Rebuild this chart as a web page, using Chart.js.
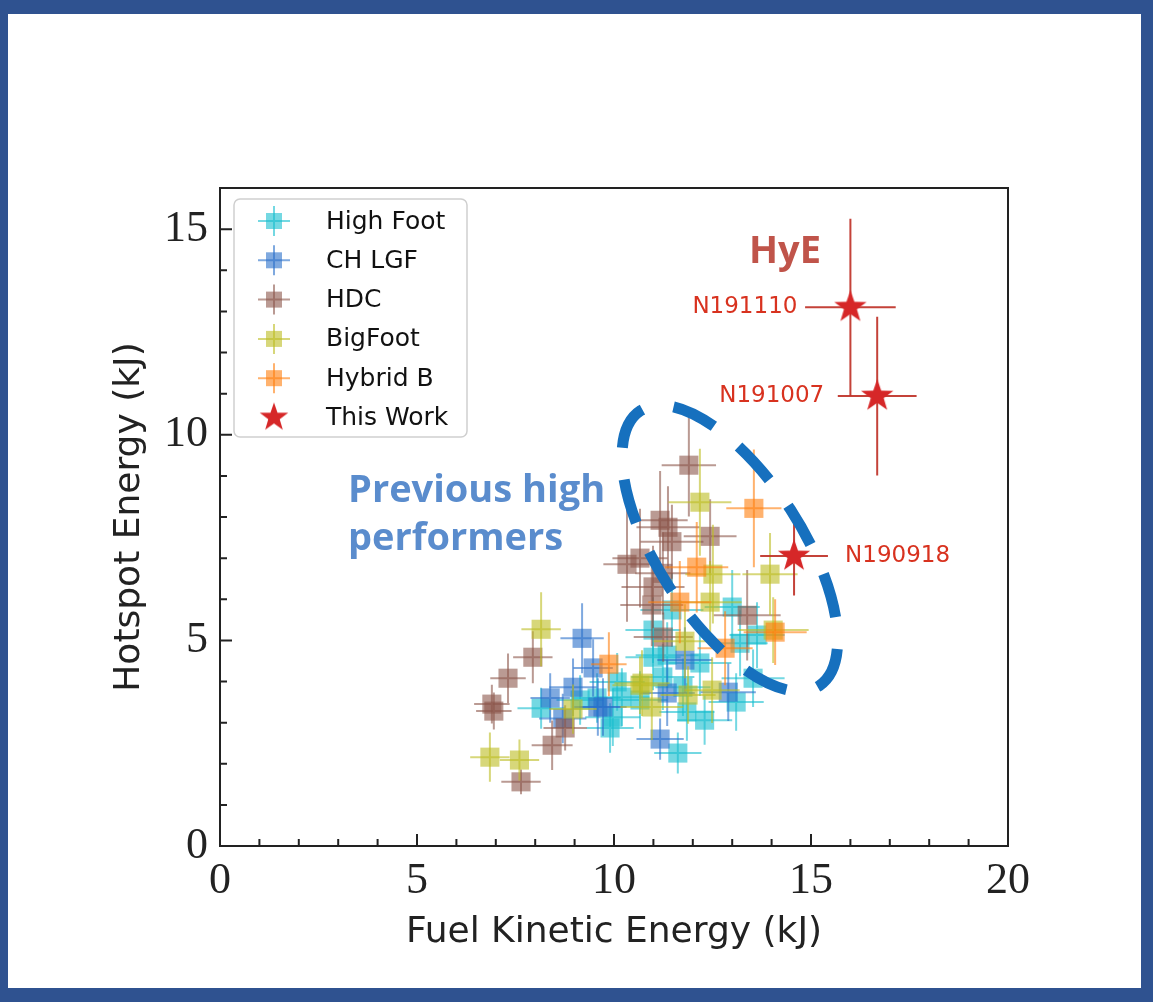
<!DOCTYPE html>
<html>
<head>
<meta charset="utf-8">
<title>Hotspot energy vs fuel kinetic energy</title>
<script src="https://cdn.jsdelivr.net/npm/chart.js@4.4.1/dist/chart.umd.min.js"></script>
<style>
  html, body { margin: 0; padding: 0; background: #fff; }
  #wrap { position: relative; width: 1153px; height: 1002px; }
  #frame {
    position: absolute; left: 0; top: 0; width: 1153px; height: 1002px;
    box-sizing: border-box; border: solid #2f5290; border-width: 14px 12px 14px 8px;
    pointer-events: none;
  }
</style>
</head>
<body>
<div id="wrap"><canvas id="energyChart"></canvas><div id="frame"></div></div>
<script>
// each row: [fuel KE (kJ), hotspot energy (kJ), x error, y error]
const HIGH_FOOT = [
    [8.15, 3.35, 0.6, 0.5], [9.9, 2.87, 0.6, 0.6], [10.08, 3.99, 0.7, 0.7], [11.62, 2.26, 0.6, 0.5],
    [10.99, 5.25, 0.7, 0.8], [9.97, 3.13, 0.7, 0.7], [13.0, 5.81, 0.7, 0.9], [13.63, 5.13, 0.7, 0.8],
    [11.85, 3.26, 0.7, 0.7], [11.35, 4.64, 0.8, 0.8], [12.18, 4.45, 0.8, 0.8], [13.53, 4.08, 0.8, 0.7],
    [11.24, 4.11, 0.8, 0.8], [11.75, 3.86, 0.7, 0.7], [10.2, 3.62, 0.7, 0.7], [13.2, 4.93, 0.7, 0.8],
    [10.99, 4.59, 0.7, 0.8], [9.57, 3.6, 0.6, 0.6], [10.66, 3.55, 0.7, 0.7], [12.3, 3.06, 0.7, 0.6],
    [11.47, 5.74, 0.8, 0.9], [9.14, 3.55, 0.6, 0.6], [13.1, 3.5, 0.7, 0.7]
];
const CH_LGF = [
    [9.19, 5.05, 0.55, 0.85], [9.47, 4.33, 0.5, 0.7], [8.96, 3.86, 0.6, 0.7], [9.59, 3.38, 0.6, 0.7],
    [8.38, 3.6, 0.5, 0.6], [11.17, 2.6, 0.6, 0.5], [12.9, 3.74, 0.7, 0.7], [11.35, 3.72, 0.7, 0.8],
    [11.8, 4.52, 0.7, 0.8], [9.72, 3.38, 0.6, 0.7], [8.7, 3.1, 0.6, 0.6]
];
const HDC = [
    [6.9, 3.45, 0.45, 0.47], [6.95, 3.28, 0.45, 0.45], [7.31, 4.08, 0.45, 0.6], [7.94, 4.59, 0.5, 0.63],
    [7.64, 1.56, 0.5, 0.3], [8.43, 2.45, 0.52, 0.6], [8.76, 2.87, 0.55, 0.55], [10.33, 6.85, 0.6, 1.4],
    [11.9, 9.26, 0.69, 1.25], [11.37, 7.75, 0.8, 1.0], [11.47, 7.4, 0.8, 0.9], [12.44, 7.53, 0.67, 0.9],
    [10.66, 7.0, 0.7, 1.2], [11.17, 7.92, 0.7, 1.2], [10.99, 6.3, 0.8, 1.0], [10.96, 5.86, 0.8, 1.0],
    [11.24, 6.63, 0.7, 1.0], [13.38, 5.61, 0.85, 1.1], [11.25, 5.08, 0.75, 0.6]
];
const BIG_FOOT = [
    [8.15, 5.27, 0.5, 0.9], [6.85, 2.16, 0.5, 0.6], [7.6, 2.09, 0.5, 0.5], [8.96, 3.33, 0.6, 0.6],
    [10.71, 3.96, 0.7, 0.8], [10.96, 3.38, 0.8, 0.8], [12.18, 8.36, 0.8, 1.3], [12.51, 6.61, 0.7, 1.2],
    [13.96, 6.61, 0.7, 1.0], [12.44, 5.93, 0.8, 1.0], [11.8, 4.98, 0.8, 0.9], [11.88, 3.67, 0.7, 0.7],
    [12.49, 3.79, 0.7, 0.8], [14.04, 5.25, 0.9, 0.8], [10.66, 3.91, 0.7, 0.7]
];
const HYBRID_B = [
    [9.87, 4.42, 0.45, 0.78], [13.55, 8.21, 0.7, 1.43], [12.1, 6.78, 0.8, 1.1], [11.67, 5.93, 0.8, 1.0],
    [12.82, 4.81, 0.7, 0.9], [14.09, 5.2, 0.8, 0.8]
];
const THIS_WORK = [
    [16.0, 13.1, 1.15, 2.15], [16.68, 10.94, 1.0, 1.93], [14.57, 7.05, 0.86, 0.96]
];
const SHOT_NAMES = ['N191110', 'N191007', 'N190918'];
const SHOT_SIDES = ['left', 'left', 'right'];

const SERIES_LABELS = ['High Foot', 'CH LGF', 'HDC', 'BigFoot', 'Hybrid B', 'This Work'];
const SERIES_ROWS = [HIGH_FOOT, CH_LGF, HDC, BIG_FOOT, HYBRID_B, THIS_WORK];
const SERIES_RGB = ['23, 190, 207', '42, 111, 201', '140, 86, 75', '188, 189, 34', '255, 127, 14', '214, 39, 40'];

const SERIF = "'Liberation Serif', 'DejaVu Serif', serif";
const SANS = "'DejaVu Sans', 'Liberation Sans', sans-serif";
const CALLOUT = "'Open Sans', 'Lato', sans-serif";

// five-pointed star used as the marker for the new shots
function makeStar(outer, inner, color) {
    const c = document.createElement('canvas');
    const size = Math.ceil(outer * 2 + 2);
    c.width = c.height = size;
    const g = c.getContext('2d');
    g.fillStyle = color;
    g.beginPath();
    for (let i = 0; i < 10; i++) {
        const r = i % 2 ? inner : outer;
        const a = -Math.PI / 2 + i * Math.PI / 5;
        g.lineTo(size / 2 + r * Math.cos(a), size / 2 + r * Math.sin(a));
    }
    g.closePath();
    g.fill();
    return c;
}
const starMarker = makeStar(17, 6.8, '#d62728');
const starLegend = makeStar(15, 6, '#d62728');

const datasets = SERIES_ROWS.map((rows, i) => {
    const isStar = i === SERIES_ROWS.length - 1;
    return {
        label: SERIES_LABELS[i],
        data: rows.map(r => ({x: r[0], y: r[1], xErr: r[2], yErr: r[3]})),
        backgroundColor: `rgba(${SERIES_RGB[i]}, 0.6)`,
        borderWidth: 0,
        pointStyle: isStar ? starMarker : 'rect',
        pointRadius: 13.5,
        pointHoverRadius: 13.5,
        errorColor: isStar ? 'rgba(190, 45, 35, 0.9)' : `rgba(${SERIES_RGB[i]}, 0.6)`,
        order: SERIES_ROWS.length - i // first series at the bottom
    };
});

// x / y error bars, drawn under each dataset's markers
const errorBars = {
    id: 'errorBars',
    beforeDatasetDraw(chart, args) {
        const ds = chart.data.datasets[args.index];
        const {ctx, scales: {x, y}} = chart;
        ctx.save();
        ctx.strokeStyle = ds.errorColor;
        ctx.lineWidth = 2;
        ds.data.forEach((p, i) => {
            const el = args.meta.data[i];
            ctx.beginPath();
            ctx.moveTo(x.getPixelForValue(p.x - p.xErr), el.y);
            ctx.lineTo(x.getPixelForValue(p.x + p.xErr), el.y);
            ctx.moveTo(el.x, y.getPixelForValue(p.y - p.yErr));
            ctx.lineTo(el.x, y.getPixelForValue(p.y + p.yErr));
            ctx.stroke();
        });
        ctx.restore();
    }
};

// closed axes box with inward major/minor ticks
const axesBox = {
    id: 'axesBox',
    afterDatasetsDraw(chart) {
        const {ctx, chartArea: a, scales: {x, y}} = chart;
        ctx.save();
        ctx.strokeStyle = '#222';
        ctx.lineWidth = 2;
        ctx.strokeRect(a.left, a.top, a.right - a.left, a.bottom - a.top);
        ctx.beginPath();
        for (let v = x.min; v <= x.max; v++) {
            const px = x.getPixelForValue(v);
            const len = v % 5 === 0 ? 12 : 7;
            ctx.moveTo(px, a.bottom);
            ctx.lineTo(px, a.bottom - len);
        }
        for (let v = y.min; v <= y.max; v++) {
            const py = y.getPixelForValue(v);
            const len = v % 5 === 0 ? 12 : 7;
            ctx.moveTo(a.left, py);
            ctx.lineTo(a.left + len, py);
        }
        ctx.stroke();
        ctx.restore();
    }
};

// shot names, HyE tag and the dashed ring round earlier shots
const callouts = {
    id: 'callouts',
    afterDatasetsDraw(chart) {
        const {ctx, scales: {x, y}} = chart;
        ctx.save();

        ctx.strokeStyle = '#1670be';
        ctx.lineWidth = 11;
        ctx.setLineDash([45, 32]);
        ctx.lineDashOffset = 43;
        ctx.beginPath();
        ctx.ellipse(x.getPixelForValue(12.94), y.getPixelForValue(7.24), 164, 72, 57 * Math.PI / 180, 0, Math.PI * 2);
        ctx.stroke();
        ctx.setLineDash([]);

        ctx.fillStyle = '#d8321f';
        ctx.font = `23px ${SANS}`;
        ctx.textBaseline = 'middle';
        THIS_WORK.forEach((r, i) => {
            const px = x.getPixelForValue(r[0]);
            const py = y.getPixelForValue(r[1]);
            if (SHOT_SIDES[i] === 'left') {
                ctx.textAlign = 'right';
                ctx.fillText(SHOT_NAMES[i], px - 53, py);
            } else {
                ctx.textAlign = 'left';
                ctx.fillText(SHOT_NAMES[i], px + 51, py);
            }
        });

        ctx.textAlign = 'center';
        ctx.fillStyle = '#c0544a';
        ctx.font = `bold 38px ${CALLOUT}`;
        ctx.fillText('HyE', x.getPixelForValue(14.34), y.getPixelForValue(14.43));

        ctx.textAlign = 'left';
        ctx.textBaseline = 'alphabetic';
        ctx.fillStyle = '#5a8ccd';
        ctx.font = `bold 38px ${CALLOUT}`;
        const tx = x.getPixelForValue(3.25);
        const ty = y.getPixelForValue(8.36);
        ctx.fillText('Previous high', tx, ty);
        ctx.fillText('performers', tx, ty + 48);
        ctx.restore();
    }
};

// framed legend in the upper-left corner of the plot
const legendBox = {
    id: 'legendBox',
    afterDraw(chart) {
        const {ctx, chartArea: a} = chart;
        const left = a.left + 14, top = a.top + 11, w = 233, h = 238;
        ctx.save();
        ctx.fillStyle = 'rgba(255,255,255,0.85)';
        ctx.strokeStyle = '#cfcfcf';
        ctx.lineWidth = 1.5;
        ctx.beginPath();
        ctx.roundRect(left, top, w, h, 6);
        ctx.fill();
        ctx.stroke();

        ctx.font = `25px ${SANS}`;
        ctx.textBaseline = 'middle';
        ctx.textAlign = 'left';
        chart.data.datasets.forEach((ds, i) => {
            const cx = left + 40;
            const cy = top + 22 + i * 39.3;
            if (ds.pointStyle === 'rect') {
                ctx.strokeStyle = ds.errorColor;
                ctx.lineWidth = 2;
                ctx.beginPath();
                ctx.moveTo(cx - 16, cy); ctx.lineTo(cx + 16, cy);
                ctx.moveTo(cx, cy - 15); ctx.lineTo(cx, cy + 15);
                ctx.stroke();
                ctx.fillStyle = ds.backgroundColor;
                ctx.fillRect(cx - 8, cy - 8, 16, 16);
            } else {
                ctx.drawImage(starLegend, cx - starLegend.width / 2, cy - starLegend.height / 2);
            }
            ctx.fillStyle = '#111';
            ctx.fillText(ds.label, left + 92, cy + 1);
        });
        ctx.restore();
    }
};

const ctx = document.getElementById('energyChart').getContext('2d');
new Chart(ctx, {
    type: 'scatter',
    data: {datasets},
    options: {
        responsive: true,
        maintainAspectRatio: false,
        animation: false,
        layout: {padding: {left: 0, right: 145, top: 188, bottom: 0}},
        plugins: {
            legend: {display: false},
            tooltip: {enabled: false}
        },
        scales: {
            x: {
                type: 'linear',
                min: 0,
                max: 20,
                grid: {display: false, drawTicks: false},
                border: {display: false},
                ticks: {stepSize: 5, includeBounds: false, padding: 9, color: '#222', font: {family: SERIF, size: 44}},
                title: {display: true, text: 'Fuel Kinetic Energy (kJ)', color: '#222', font: {family: SANS, size: 36}, padding: {top: 0, bottom: 48}},
                afterFit: s => { s.height = 156; }
            },
            y: {
                type: 'linear',
                min: 0,
                max: 16,
                grid: {display: false, drawTicks: false},
                border: {display: false},
                ticks: {stepSize: 5, includeBounds: false, padding: 12, color: '#222', font: {family: SERIF, size: 44}},
                title: {display: true, text: 'Hotspot Energy (kJ)', color: '#222', font: {family: SANS, size: 36}, padding: {top: 108, bottom: 0}},
                afterFit: s => { s.width = 220; }
            }
        }
    },
    plugins: [errorBars, axesBox, callouts, legendBox]
});
</script>
</body>
</html>
